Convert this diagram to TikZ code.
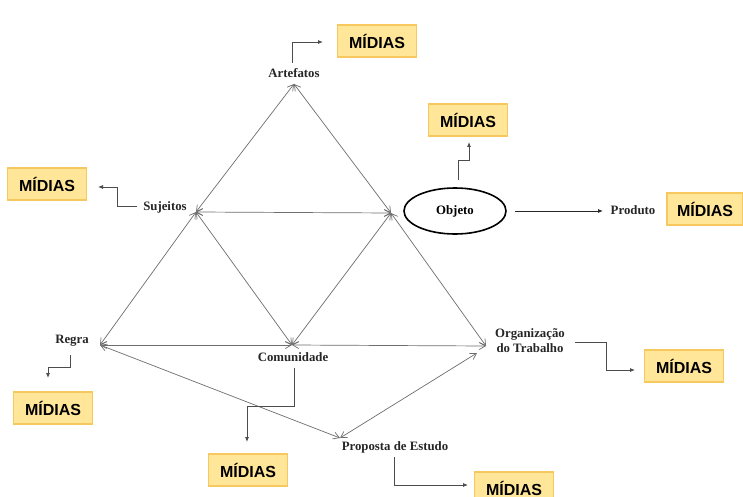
\documentclass[tikz,border=0pt]{standalone}
\usepackage{fontspec}
\setmainfont{Liberation Serif}
\newfontfamily\arialfont{Liberation Sans}
\usetikzlibrary{arrows.meta,shapes.geometric}
\definecolor{midfill}{HTML}{FFE699}
\definecolor{midborder}{HTML}{F7C85E}
\definecolor{edgegray}{HTML}{6E6E6E}
\begin{document}
\begin{tikzpicture}[x=1pt,y=-1pt,
 lbl/.style={font=\bfseries\fontsize{12.8}{15}\selectfont, inner sep=1pt, align=center, text=black!85},
 midia/.style={draw=midborder, line width=1.1pt, fill=midfill, minimum width=79pt, minimum height=32pt, font=\arialfont\bfseries\fontsize{16}{18}\selectfont, inner sep=0pt},
 rel/.style={draw=edgegray, line width=0.7pt, {Straight Barb[length=6pt,width=7pt]}-{Straight Barb[length=6pt,width=7pt]}},
 elbow/.style={draw=black!70, line width=0.8pt, -{Latex[length=5pt,width=4pt]}},
 objeto/.style={draw=black, ellipse, line width=1.6pt, minimum width=102pt, minimum height=46pt, font=\bfseries\fontsize{12.8}{15}\selectfont}]
\useasboundingbox[fill=white] (0,0) rectangle (743,497);

% vertices
\coordinate (vA) at (294,84);
\coordinate (vS) at (196,212);
\coordinate (vO) at (391,213);
\coordinate (vR) at (100,345);
\coordinate (vC) at (292,345);
\coordinate (vT) at (486,346);
\coordinate (vT2) at (477,353);
\coordinate (vP) at (340,438);

% labels
\node[lbl] (artefatos) at (294,73) {Artefatos};
\node[lbl] (sujeitos) at (165,207) {Sujeitos};
\node[objeto] (objeto) at (455,211) {Objeto};
\node[lbl] (produto) at (633,210) {Produto};
\node[lbl] (regra) at (72,341) {Regra};
\node[lbl] (comunidade) at (293,357) {Comunidade};
\node[lbl] (organizacao) at (530,341) {Organização\\do Trabalho};
\node[lbl] (proposta) at (395,447) {Proposta de Estudo};

% MIDIAS boxes
\node[midia] (m1) at (377,41) {MÍDIAS};
\node[midia] (m2) at (47,184) {MÍDIAS};
\node[midia] (m3) at (468,120) {MÍDIAS};
\node[midia, minimum width=76pt] (m4) at (705,209) {MÍDIAS};
\node[midia] (m5) at (53,408) {MÍDIAS};
\node[midia] (m6) at (248,470) {MÍDIAS};
\node[midia] (m7) at (684,366) {MÍDIAS};
\node[midia] (m8) at (514,488) {MÍDIAS};

% relation edges
\draw[rel] (vA) -- (vS);
\draw[rel] (vA) -- (vO);
\draw[rel] (vS) -- (vO);
\draw[rel] (vS) -- (vR);
\draw[rel] (vS) -- (vC);
\draw[rel] (vO) -- (vC);
\draw[rel] (vO) -- (vT);
\draw[rel] (vR) -- (vC);
\draw[rel] (vC) -- (vT);
\draw[rel] (vR) -- (vP);
\draw[rel] (vP) -- (vT2);

% elbow connectors
\coordinate (e1s) at (292,63);  \coordinate (e1t) at (323,42);
\draw[elbow] (e1s) |- (e1t);
\coordinate (e2s) at (137,206); \coordinate (e2t) at (98,187);
\draw[elbow] (e2s) -- (117,206) |- (e2t);
\coordinate (e3s) at (458,180); \coordinate (e3t) at (469,142);
\draw[elbow] (e3s) -- (458,160) -| (e3t);
\coordinate (e4s) at (70,355);  \coordinate (e4t) at (48,378);
\draw[elbow] (e4s) -- (70,367) -| (e4t);
\coordinate (e5s) at (294,368); \coordinate (e5t) at (247,442);
\draw[elbow] (e5s) -- (294,406) -| (e5t);
\coordinate (e6s) at (575,342); \coordinate (e6t) at (635,370);
\draw[elbow] (e6s) -| (606,356) |- (e6t);
\coordinate (e7s) at (394,457); \coordinate (e7t) at (468,485);
\draw[elbow] (e7s) |- (e7t);
\coordinate (e8t) at (603,211);
\draw[elbow, draw=black!85] ([xshift=8pt]objeto.east) -- (e8t);
\end{tikzpicture}
\end{document}
